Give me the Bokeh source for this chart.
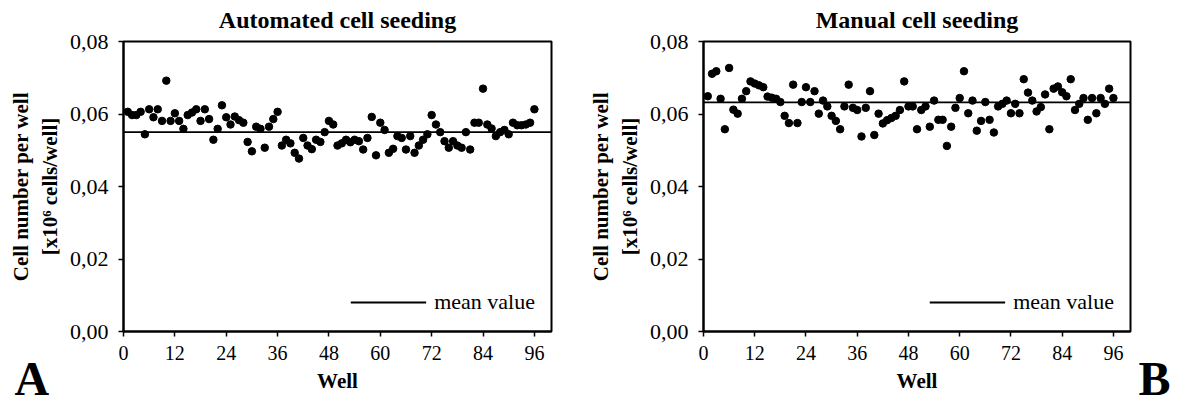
from bokeh.plotting import figure
from bokeh.layouts import row
from bokeh.models import Range1d, FixedTicker, CustomJSTickFormatter, Label
from bokeh.embed import file_html
from bokeh.resources import INLINE

wells = list(range(1, 97))
auto = [0.0606, 0.0597, 0.0597, 0.0606, 0.0544, 0.0613, 0.0591, 0.0613, 0.0581, 0.0692,
        0.0581, 0.0602, 0.0581, 0.0559, 0.0597, 0.0604, 0.0613, 0.0581, 0.0613, 0.0586,
        0.0529, 0.0559, 0.0624, 0.0591, 0.0571, 0.0593, 0.0583, 0.0576, 0.0523, 0.0497,
        0.0565, 0.0559, 0.0507, 0.0565, 0.0586, 0.0606, 0.0513, 0.0529, 0.0519, 0.0493,
        0.0477, 0.0534, 0.0513, 0.0503, 0.0529, 0.0523, 0.0550, 0.0581, 0.0571, 0.0513,
        0.0519, 0.0529, 0.0522, 0.0529, 0.0525, 0.0502, 0.0534, 0.0592, 0.0486, 0.0576,
        0.0556, 0.0493, 0.0504, 0.0539, 0.0534, 0.0502, 0.0539, 0.0493, 0.0513, 0.0529,
        0.0544, 0.0597, 0.0571, 0.0550, 0.0525, 0.0507, 0.0525, 0.0513, 0.0507, 0.0550,
        0.0502, 0.0576, 0.0576, 0.0670, 0.0571, 0.0560, 0.0539, 0.0550, 0.0556, 0.0544,
        0.0576, 0.0569, 0.0569, 0.0571, 0.0576, 0.0613]
manual = [0.0649, 0.0711, 0.0718, 0.0642, 0.0558, 0.0727, 0.0612, 0.0601, 0.0642, 0.0663,
          0.0690, 0.0684, 0.0679, 0.0674, 0.0648, 0.0645, 0.0642, 0.0633, 0.0595, 0.0575,
          0.0681, 0.0575, 0.0633, 0.0674, 0.0633, 0.0663, 0.0601, 0.0637, 0.0621, 0.0595,
          0.0581, 0.0558, 0.0621, 0.0681, 0.0617, 0.0611, 0.0538, 0.0617, 0.0663, 0.0542,
          0.0601, 0.0574, 0.0583, 0.0589, 0.0595, 0.0611, 0.0690, 0.0621, 0.0621, 0.0558,
          0.0611, 0.0621, 0.0565, 0.0637, 0.0584, 0.0584, 0.0512, 0.0565, 0.0617, 0.0644,
          0.0718, 0.0602, 0.0637, 0.0554, 0.0581, 0.0633, 0.0584, 0.0549, 0.0621, 0.0628,
          0.0637, 0.0602, 0.0628, 0.0602, 0.0696, 0.0659, 0.0637, 0.0607, 0.0619, 0.0654,
          0.0558, 0.0670, 0.0676, 0.0660, 0.0649, 0.0696, 0.0611, 0.0628, 0.0644, 0.0584,
          0.0644, 0.0602, 0.0644, 0.0628, 0.0670, 0.0644]
mean_auto = 0.0550
mean_manual = 0.0632
x_ticks = [0, 12, 24, 36, 48, 60, 72, 84, 96]
y_ticks = [0.0, 0.02, 0.04, 0.06, 0.08]
titles = ["Automated cell seeding", "Manual cell seeding"]
panel_letters = ["A", "B"]
y_label = "Cell number per well\n[x10\u2076 cells/well]"
x_label = "Well"
legend_text = "mean value"

FONT = "Liberation Serif"


def make(title, values, mean, letter, width, border_left, border_right, letter_x):
    p = figure(width=width, height=399, output_backend="svg", toolbar_location=None,
               x_range=Range1d(0, 100), y_range=Range1d(0, 0.08),
               min_border_left=border_left, min_border_right=border_right,
               min_border_top=41, min_border_bottom=68)
    p.title.text = title
    p.title.text_font = FONT
    p.title.text_font_size = "24px"
    p.title.text_font_style = "bold"
    p.title.text_color = "black"
    p.title.align = "center"
    p.title.vertical_align = "top"
    p.title.standoff = 13
    p.xgrid.visible = False
    p.ygrid.visible = False
    p.outline_line_color = "black"
    p.outline_line_width = 2
    p.background_fill_color = "white"

    for ax in (p.xaxis[0], p.yaxis[0]):
        ax.axis_line_width = 2
        ax.axis_line_color = "black"
        ax.major_tick_line_width = 1.5
        ax.major_tick_line_color = "black"
        ax.major_tick_out = 5
        ax.major_tick_in = 0
        ax.minor_tick_line_color = None
        ax.major_label_text_font = FONT
        ax.major_label_text_color = "black"
        ax.axis_label_text_font = FONT
        ax.axis_label_text_font_style = "bold"
        ax.axis_label_text_color = "black"

    p.xaxis.major_label_text_font_size = "20px"
    p.yaxis.major_label_text_font_size = "22px"
    p.xaxis.axis_label_text_font_size = "21px"
    p.yaxis.axis_label_text_font_size = "21px"
    p.xaxis.ticker = FixedTicker(ticks=x_ticks)
    p.yaxis.ticker = FixedTicker(ticks=y_ticks)
    p.yaxis.formatter = CustomJSTickFormatter(code="return tick.toFixed(2).replace('.', ',');")
    p.xaxis.major_label_standoff = 9
    p.yaxis.major_label_standoff = 10
    p.xaxis.axis_label = x_label
    p.xaxis.axis_label_standoff = 6
    p.yaxis.axis_label = y_label
    p.yaxis.axis_label_standoff = 5

    p.line([0, 100], [mean, mean], line_color="black", line_width=1.8, legend_label=legend_text)
    p.scatter(wells, values, size=7.5, fill_color="black", line_color="black")

    lg = p.legend[0]
    lg.location = "bottom_right"
    lg.margin = 16
    lg.padding = 0
    lg.spacing = 0
    lg.border_line_color = None
    lg.background_fill_alpha = 0
    lg.glyph_width = 76
    lg.glyph_height = 24
    lg.label_height = 24
    lg.label_standoff = 8
    lg.label_text_font = FONT
    lg.label_text_font_size = "22px"
    lg.label_text_color = "black"

    # panel letter lives in the right side panel so it is not clipped to the frame
    p.add_layout(Label(x=letter_x, y=-47, x_units="screen", y_units="screen", text=letter,
                       text_font=FONT, text_font_size="48px", text_font_style="bold",
                       text_color="black", text_baseline="alphabetic", text_align="left"),
                 "right")
    return p


p1 = make(titles[0], auto, mean_auto, panel_letters[0], 586, 123, 35, -537)
p2 = make(titles[1], manual, mean_manual, panel_letters[1], 589, 116, 45, 8)
layout = row(p1, p2)
open("out.html", "w").write(file_html(layout, INLINE))
